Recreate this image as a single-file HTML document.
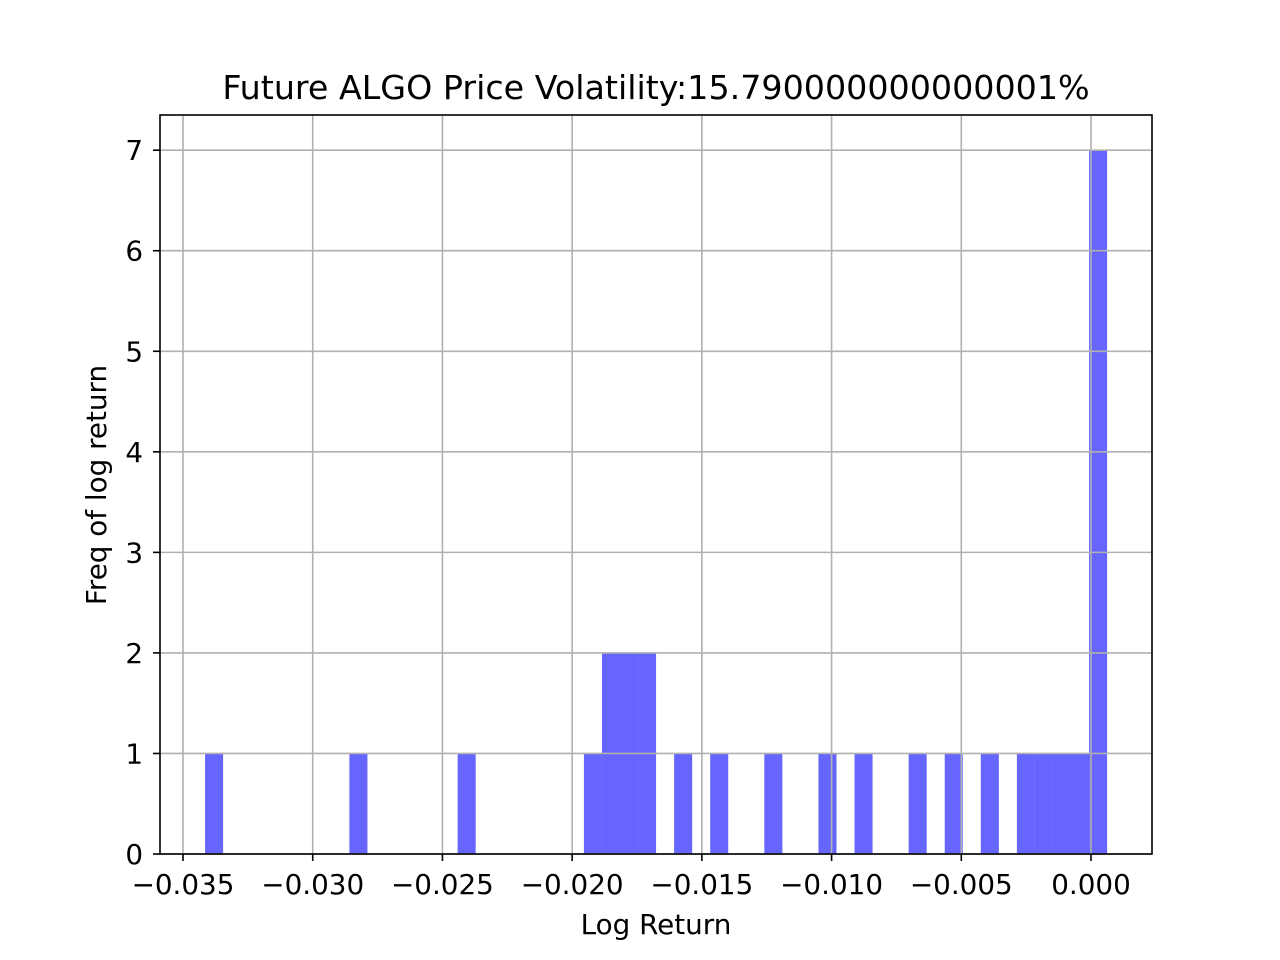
<!DOCTYPE html>
<html><head><meta charset="utf-8"><style>body{margin:0;background:#fff}svg{display:block;font-family:"DejaVu Sans","Liberation Sans",sans-serif}</style></head>
<body>
<svg id="chart" width="1280" height="960" viewBox="0 0 1280 960"></svg>
<script>
const binStart = -0.03415;
const binWidth = 0.0006954;
const counts = [1,0,0,0,0,0,0,0,1,0, 0,0,0,0,1,0,0,0,0,0, 0,1,2,2,2,0,1,0,1,0, 0,1,0,0,1,0,1,0,0,1, 0,1,0,1,0,1,1,1,1,7];
const xTicks = [-0.035,-0.030,-0.025,-0.020,-0.015,-0.010,-0.005,0.000];
const xTickLabels = ["\u22120.035","\u22120.030","\u22120.025","\u22120.020","\u22120.015","\u22120.010","\u22120.005","0.000"];
const yTicks = [0,1,2,3,4,5,6,7];

const L=160,R=1152,T=115,B=854;
const xMin=-0.035887,xMax=0.002351,yMin=0,yMax=7.35;
const sx=v=>L+(v-xMin)/(xMax-xMin)*(R-L);
const sy=v=>B-(v-yMin)/(yMax-yMin)*(B-T);
const svg=document.getElementById('chart');
const NS='http://www.w3.org/2000/svg';
function mk(tag,attrs,parent){const e=document.createElementNS(NS,tag);for(const k in attrs)e.setAttribute(k,attrs[k]);(parent||svg).appendChild(e);return e;}

const bars=mk('g',{});


counts.forEach((c,i)=>{if(!c)return;
  const x0=sx(binStart+i*binWidth),x1=sx(binStart+(i+1)*binWidth);
  const r=mk('rect',{x:x0,y:sy(c),width:x1-x0,height:sy(0)-sy(c),fill:'#6666ff'},bars);
  
  
});
const grid=mk('g',{stroke:'#b0b0b0','stroke-width':1.6});


xTicks.forEach(v=>mk('line',{x1:sx(v),x2:sx(v),y1:T,y2:B},grid));
yTicks.forEach(v=>mk('line',{x1:L,x2:R,y1:sy(v),y2:sy(v)},grid));

const frame=mk('rect',{x:L,y:T,width:R-L,height:B-T,fill:'none',stroke:'#000','stroke-width':1.6});



xTicks.forEach((v,i)=>{
  mk('line',{x1:sx(v),x2:sx(v),y1:B,y2:B+7,stroke:'#000','stroke-width':1.6});
  const t=mk('text',{x:sx(v),y:B+40,'text-anchor':'middle','font-size':27.8});
  t.textContent=xTickLabels[i];
  
  
});
yTicks.forEach(v=>{
  mk('line',{x1:L-7,x2:L,y1:sy(v),y2:sy(v),stroke:'#000','stroke-width':1.6});
  const t=mk('text',{x:L-17,y:sy(v)+10,'text-anchor':'end','font-size':27.8});
  t.textContent=String(v);
  
  
});
</script>
<svg style="position:absolute;left:0;top:0" width="1280" height="960">
<text x="656" y="99" text-anchor="middle" font-size="33.3" font-family="DejaVu Sans, Liberation Sans, sans-serif">Future ALGO Price Volatility:15.790000000000001%</text>
<text x="656" y="934" text-anchor="middle" font-size="27.8" font-family="DejaVu Sans, Liberation Sans, sans-serif">Log Return</text>
<text x="106" y="485" text-anchor="middle" font-size="27.8" font-family="DejaVu Sans, Liberation Sans, sans-serif" transform="rotate(-90 106 485)">Freq of log return</text>
</svg>
</body></html>
